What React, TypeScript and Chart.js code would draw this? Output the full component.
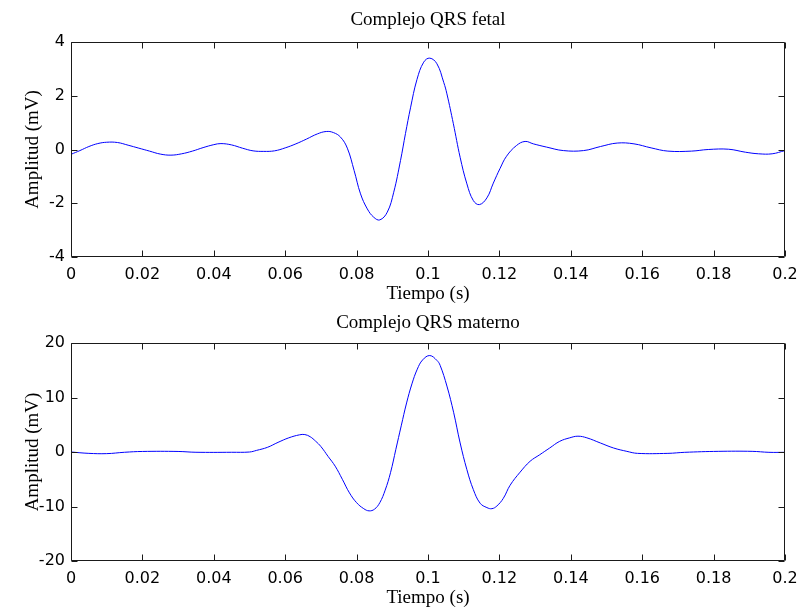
import React, { useEffect, useRef } from "react";
import { Chart, registerables } from "chart.js";

Chart.register(...registerables);

// ---- Data ----
const fetalTime = [
  0.0, 0.0025, 0.005, 0.0075, 0.01, 0.013, 0.016, 0.019, 0.022, 0.025, 0.028, 0.031, 0.034, 0.037,
  0.04, 0.042, 0.045, 0.048, 0.051, 0.054, 0.057, 0.06, 0.063, 0.066, 0.069, 0.0715, 0.0735,
  0.0755, 0.0774, 0.0793, 0.0811, 0.083, 0.0848, 0.0865, 0.0886, 0.0904, 0.0923, 0.0937, 0.0951,
  0.0969, 0.0988, 0.1005, 0.1025, 0.1044, 0.1053, 0.1071, 0.109, 0.1109, 0.1127, 0.1144, 0.1165,
  0.1183, 0.1202, 0.122, 0.1248, 0.1272, 0.1295, 0.1332, 0.1379, 0.1436, 0.1483, 0.153, 0.1577,
  0.1625, 0.1672, 0.1738, 0.1785, 0.1842, 0.1889, 0.1926, 0.1964, 0.2,
];
const fetalAmp = [
  -0.18, -0.04, 0.11, 0.22, 0.27, 0.26, 0.16, 0.05, -0.06, -0.17, -0.21, -0.16, -0.06, 0.07,
  0.18, 0.22, 0.17, 0.05, -0.05, -0.07, -0.05, 0.06, 0.21, 0.39, 0.58, 0.67, 0.63,
  0.46, 0.05, -0.78, -1.65, -2.21, -2.52, -2.62, -2.33, -1.59, -0.41, 0.6, 1.55,
  2.6, 3.25, 3.4, 3.19, 2.5, 2.07, 0.96, -0.29, -1.28, -1.9, -2.05, -1.8,
  -1.25, -0.7, -0.25, 0.15, 0.3, 0.21, 0.09, -0.04, -0.04, 0.11, 0.24, 0.21,
  0.06, -0.06, -0.06, 0.0, 0.01, -0.1, -0.16, -0.16, -0.04,
];

const maternalTime = [
  0.0, 0.005, 0.01, 0.015, 0.02, 0.03, 0.035, 0.045, 0.05, 0.052, 0.055, 0.058, 0.061, 0.064,
  0.0655, 0.067, 0.0685, 0.07, 0.072, 0.074, 0.076, 0.078, 0.08, 0.082, 0.0835, 0.085, 0.0865,
  0.088, 0.0895, 0.091, 0.0925, 0.094, 0.0955, 0.097, 0.0985, 0.1005, 0.1025, 0.1034, 0.1053,
  0.1072, 0.109, 0.1109, 0.1127, 0.1146, 0.1165, 0.1179, 0.1193, 0.1211, 0.123, 0.1258, 0.1286,
  0.1313, 0.1341, 0.1369, 0.1397, 0.142, 0.1445, 0.1483, 0.152, 0.1557, 0.1587, 0.1672, 0.1719,
  0.1813, 0.1908, 0.1955, 0.2,
];
const maternalAmp = [
  0.0, -0.25, -0.3, -0.05, 0.1, 0.1, -0.05, -0.05, 0.0, 0.3, 0.85, 1.77, 2.6, 3.15,
  3.2, 2.8, 2.0, 1.0, -0.8, -2.6, -5.0, -7.5, -9.3, -10.4, -10.8, -10.5, -9.3,
  -7.0, -3.8, 0.5, 4.8, 9.0, 12.5, 15.2, 16.9, 17.7, 16.8, 15.9, 12.1,
  7.2, 1.66, -3.25, -6.9, -9.4, -10.2, -10.4, -9.9, -8.5, -6.1, -3.7, -1.7,
  -0.5, 0.74, 1.96, 2.6, 2.9, 2.6, 1.65, 0.73, 0.12, -0.25, -0.25, -0.06,
  0.12, 0.12, -0.06, -0.06,
];

const xTickLabels = ["0", "0.02", "0.04", "0.06", "0.08", "0.1", "0.12", "0.14", "0.16", "0.18", "0.2"];
const fetalYTicks = ["-4", "-2", "0", "2", "4"];
const maternalYTicks = ["-20", "-10", "0", "10", "20"];

const titles = ["Complejo QRS fetal", "Complejo QRS materno"];
const xTitle = "Tiempo (s)";
const yTitle = "Amplitud (mV)";

// ---- Styling ----
const SERIF = "'Liberation Serif', 'Times New Roman', serif";
const SANS = "'DejaVu Sans', sans-serif";
const AXIS_COLOR = "#1a1a1a";
const TICK_LEN = 6;

const boxTicksPlugin = {
  id: "boxTicks",
  afterDraw(chart: any) {
    const { ctx, chartArea } = chart;
    const { left, right, top, bottom } = chartArea;
    const xs = chart.scales.x;
    const ys = chart.scales.y;
    const L = Math.round(left) + 0.5;
    const R = Math.round(right) - 0.5;
    const T = Math.round(top) + 0.5;
    const B = Math.round(bottom) - 0.5;
    ctx.save();
    ctx.strokeStyle = AXIS_COLOR;
    ctx.lineWidth = 1;
    ctx.beginPath();
    ctx.rect(L, T, R - L, B - T);
    xs.ticks.forEach((t: any) => {
      const px = Math.round(xs.getPixelForValue(t.value)) + 0.5;
      ctx.moveTo(px, B);
      ctx.lineTo(px, B - TICK_LEN);
      ctx.moveTo(px, T);
      ctx.lineTo(px, T + TICK_LEN);
    });
    ys.ticks.forEach((t: any) => {
      const py = Math.round(ys.getPixelForValue(t.value)) + 0.5;
      ctx.moveTo(L, py);
      ctx.lineTo(L + TICK_LEN, py);
      ctx.moveTo(R, py);
      ctx.lineTo(R - TICK_LEN, py);
    });
    ctx.stroke();
    ctx.restore();
  },
};

type PanelProps = {
  time: number[];
  amp: number[];
  title: string;
  yMin: number;
  yMax: number;
  yStep: number;
  yLabels: string[];
  height: number;
  titlePad: { top: number; bottom: number };
  xAxisHeight: number;
  xTitlePadBottom: number;
};

function Panel(p: PanelProps) {
  const ref = useRef<HTMLCanvasElement | null>(null);
  useEffect(() => {
    if (!ref.current) return;
    const points = p.time.map((t, i) => ({ x: t, y: p.amp[i] }));
    const chart = new Chart(ref.current, {
      type: "line",
      data: {
        datasets: [
          {
            data: points,
            borderColor: "rgb(0,0,255)",
            borderWidth: 1,
            pointRadius: 0,
            fill: false,
            tension: 0.4,
          },
        ],
      },
      options: {
        animation: false,
        responsive: false,
        events: [],
        layout: { padding: { left: 0, right: 0, top: 0, bottom: 0 } },
        plugins: {
          legend: { display: false },
          tooltip: { enabled: false },
          title: {
            display: true,
            text: p.title,
            fullSize: false,
            color: "#000",
            font: { family: SERIF, size: 19, weight: "normal", lineHeight: 1.2 },
            padding: p.titlePad,
          },
        },
        scales: {
          x: {
            type: "linear",
            min: 0,
            max: 0.2,
            grid: { display: false, drawTicks: false },
            border: { display: false },
            ticks: {
              stepSize: 0.02,
              autoSkip: false,
              maxRotation: 0,
              padding: 8,
              color: "#000",
              font: { family: SANS, size: 16 },
              callback: (_v: any, i: number) => xTickLabels[i],
            },
            title: {
              display: true,
              text: xTitle,
              color: "#000",
              font: { family: SERIF, size: 19, lineHeight: 1.2 },
              padding: { top: 0, bottom: p.xTitlePadBottom },
            },
            afterFit: (scale: any) => {
              scale.height = p.xAxisHeight;
              scale.paddingLeft = 0;
              scale.paddingRight = 13;
            },
          },
          y: {
            type: "linear",
            min: p.yMin,
            max: p.yMax,
            grid: { display: false, drawTicks: false },
            border: { display: false },
            ticks: {
              stepSize: p.yStep,
              padding: 6,
              color: "#000",
              font: { family: SANS, size: 16 },
              callback: (_v: any, i: number) => p.yLabels[i],
            },
            title: {
              display: true,
              text: yTitle,
              color: "#000",
              font: { family: SERIF, size: 19, lineHeight: 1.2 },
              padding: { top: 22, bottom: 0 },
            },
            afterFit: (scale: any) => {
              scale.width = 71;
              scale.paddingTop = 0;
              scale.paddingBottom = 0;
            },
          },
        },
      },
      plugins: [boxTicksPlugin],
    } as any);
    return () => chart.destroy();
  }, []);
  return (
    <canvas
      ref={ref}
      width={798}
      height={p.height}
      style={{ display: "block", width: 798, height: p.height }}
    />
  );
}

export default function App() {
  return (
    <div
      style={{
        position: "absolute",
        left: 0,
        top: 0,
        width: 798,
        height: 613,
        background: "#fff",
      }}
    >
      <Panel
        time={fetalTime}
        amp={fetalAmp}
        title={titles[0]}
        yMin={-4}
        yMax={4}
        yStep={2}
        yLabels={fetalYTicks}
        height={310}
        titlePad={{ top: 8.4, bottom: 10.8 }}
        xAxisHeight={53}
        xTitlePadBottom={4.6}
      />
      <Panel
        time={maternalTime}
        amp={maternalAmp}
        title={titles[1]}
        yMin={-20}
        yMax={20}
        yStep={10}
        yLabels={maternalYTicks}
        height={303}
        titlePad={{ top: 2.1, bottom: 8.1 }}
        xAxisHeight={52}
        xTitlePadBottom={3.6}
      />
    </div>
  );
}
